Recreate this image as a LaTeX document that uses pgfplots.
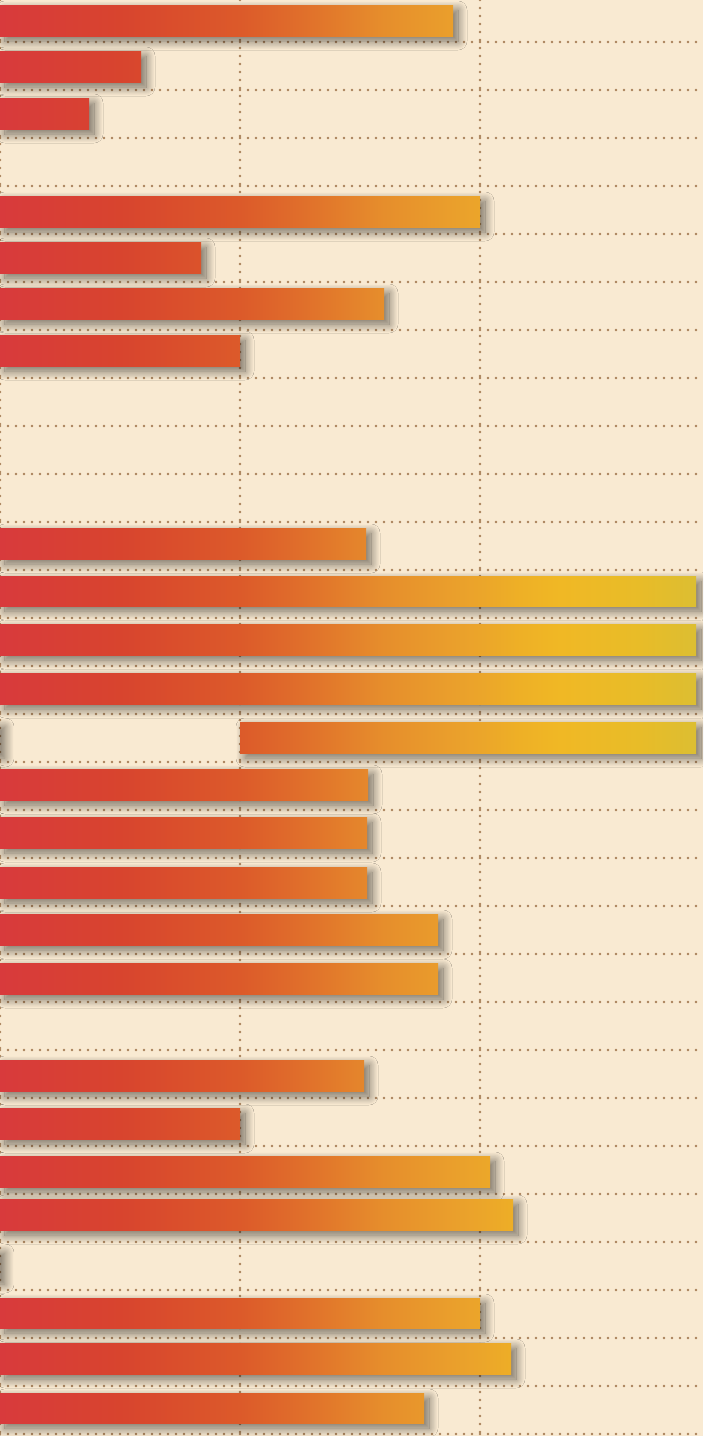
\documentclass[border=0pt]{standalone}
\usepackage{pgfplots}
\pgfplotsset{compat=1.18}
\usetikzlibrary{shadows.blur}
\definecolor{paper}{HTML}{F9EAD2}
\definecolor{gridc}{HTML}{A98159}
\definecolor{c0}{HTML}{D83A3C}
\definecolor{c1}{HTML}{D8442E}
\definecolor{c2}{HTML}{DC5A2A}
\definecolor{c3}{HTML}{E06E2B}
\definecolor{c4}{HTML}{E68E2C}
\definecolor{c5}{HTML}{EA9F2C}
\definecolor{c6}{HTML}{EBA52A}
\definecolor{c7}{HTML}{EEB026}
\definecolor{c8}{HTML}{F0B825}
\definecolor{c9}{HTML}{E8BC28}
\definecolor{c10}{HTML}{DCBE32}
\pgfdeclarehorizontalshading{barsh}{100bp}{color(0bp)=(c0); color(25bp)=(c0); color(33.53bp)=(c1); color(42.07bp)=(c2); color(46.34bp)=(c3); color(52.31bp)=(c4); color(57.22bp)=(c5); color(59.14bp)=(c6); color(61.98bp)=(c7); color(64.83bp)=(c8); color(70.52bp)=(c9); color(74.5bp)=(c10); color(100bp)=(c10)}
\tikzset{barshadow/.style={blur shadow={shadow xshift=2.5pt, shadow yshift=-2.5pt, shadow blur radius=4.5pt, shadow blur steps=24, shadow opacity=55}}}
\newcommand{\fullshade}{%
  \pgfpathrectanglecorners{\pgfplotspointaxisxy{0}{0}}{\pgfplotspointaxisxy{703}{1436}}%
  \pgfshadepath{barsh}{0}\pgfusepath{discard}}
% \gbar{y top}{y bottom}{x start}{x end}
\newcommand{\gbar}[4]{%
  \addplot[draw=none, fill=none, forget plot, barshadow] coordinates {(#3,#1) (#4,#1) (#4,#2) (#3,#2)} --cycle;
  \addplot[draw=none, fill=c0, forget plot, path picture={\fullshade}]
    coordinates {(#3,#1) (#4,#1) (#4,#2) (#3,#2)} --cycle;
}
\begin{document}
\begin{tikzpicture}
\begin{axis}[name=ax, scale only axis, width=351.5pt, height=718pt,
  xmin=0, xmax=703, ymin=0, ymax=1436, y dir=reverse,
  axis line style={draw=none}, tick style={draw=none},
  xtick={0,240,480}, ytick={42,90,...,1434},
  xticklabels={}, yticklabels={},
  grid=major,
  grid style={gridc, line width=1.3pt, line cap=round, dash pattern=on 0pt off 4pt},
  axis background/.style={fill=paper}]
\gbar{5}{36}{0}{453}
\gbar{51}{82}{0}{141}
\gbar{98}{129}{0}{89}
\gbar{196}{227}{0}{480}
\gbar{242}{273}{0}{201}
\gbar{288}{319}{0}{384}
\gbar{335}{366}{0}{240}
\gbar{528}{559}{0}{366}
\gbar{576}{606}{0}{696}
\gbar{624}{655}{0}{696}
\gbar{673}{704}{0}{696}
\addplot[draw=none, fill=none, forget plot, barshadow] coordinates {(-8,722) (0,722) (0,753) (-8,753)} --cycle;
\gbar{722}{753}{240}{696}
\gbar{769}{800}{0}{368}
\gbar{817}{848}{0}{367}
\gbar{867}{898}{0}{367}
\gbar{914}{945}{0}{438}
\gbar{963}{994}{0}{438}
\gbar{1060}{1091}{0}{364}
\gbar{1108}{1139}{0}{240}
\gbar{1156}{1187}{0}{490}
\gbar{1199}{1230}{0}{513}
\addplot[draw=none, fill=none, forget plot, barshadow] coordinates {(-8,1248) (0,1248) (0,1279) (-8,1279)} --cycle;
\gbar{1298}{1328}{0}{480}
\gbar{1343}{1374}{0}{511}
\gbar{1393}{1423}{0}{424}
\end{axis}
\pgfresetboundingbox
\path[use as bounding box] (ax.south west) rectangle (ax.north east);
\end{tikzpicture}
\end{document}
